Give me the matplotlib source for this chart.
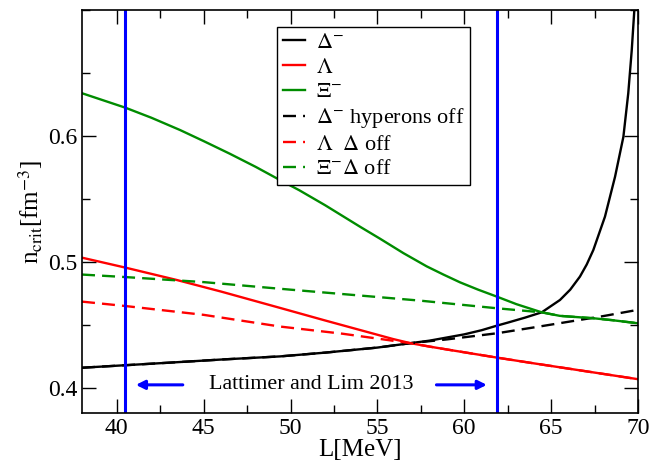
import matplotlib
matplotlib.use("Agg")
import matplotlib.pyplot as plt
from matplotlib.ticker import MultipleLocator

plt.rcParams["font.family"] = ["Liberation Serif", "DejaVu Serif"]
plt.rcParams["mathtext.fontset"] = "stix"

# --- data -----------------------------------------------------------------
L_delta = [38, 40.5, 43, 46, 49.4, 52, 55, 56.9, 58, 59, 60, 61, 61.9, 62.5,
           63.5, 64.46, 65.51, 66.1, 66.66, 67.05, 67.43, 68.1, 68.68, 69.16,
           69.44, 69.64, 69.79, 69.9]
n_delta = [0.416, 0.418, 0.420, 0.4225, 0.425, 0.428, 0.432, 0.4355, 0.4375,
           0.440, 0.4425, 0.4458, 0.4495, 0.4518, 0.4558, 0.460, 0.4698, 0.478,
           0.4884, 0.498, 0.5095, 0.536, 0.5677, 0.5994, 0.6339, 0.668, 0.700,
           0.720]

L_delta_off = [38, 40.5, 43, 46, 49.4, 52, 55, 56.9, 59, 61.9, 64, 66, 68, 70]
n_delta_off = [0.416, 0.418, 0.420, 0.4225, 0.425, 0.428, 0.432, 0.4355,
               0.4385, 0.4434, 0.448, 0.4525, 0.457, 0.462]

L_lambda = [38, 40.5, 43.45, 46, 49.4, 52, 55, 55.9, 56.9, 58, 59, 61.9, 64,
            67, 70]
n_lambda = [0.5034, 0.4955, 0.4857, 0.4765, 0.4635, 0.4535, 0.4422, 0.4388,
            0.4355, 0.4328, 0.4305, 0.424, 0.4195, 0.4132, 0.4069]

L_lambda_off = [38, 40.5, 45, 49.4, 53, 56.9, 58, 59, 61.9, 64, 67, 70]
n_lambda_off = [0.4685, 0.465, 0.458, 0.4487, 0.443, 0.4355, 0.4328, 0.4305,
                0.424, 0.4195, 0.4132, 0.4069]

L_xi = [38, 40.5, 42, 43.64, 45, 46.5, 48, 49.4, 50.5, 52, 53, 54, 55.15,
        56.5, 57.84, 58.8, 59.76, 60.8, 61.87, 63, 64.46, 65.5, 66.5, 67.43,
        68.5, 70]
n_xi = [0.634, 0.6225, 0.6145, 0.6048, 0.596, 0.586, 0.5755, 0.565, 0.557,
        0.545, 0.5365, 0.528, 0.5185, 0.507, 0.4965, 0.490, 0.4838, 0.478,
        0.4725, 0.4665, 0.4600, 0.4572, 0.4562, 0.4553, 0.4538, 0.4513]

L_xi_off = [38, 40.5, 45, 50, 55.15, 57.45, 61.9, 64.46, 65.5, 66.5, 67.43,
            68.5, 70]
n_xi_off = [0.490, 0.488, 0.484, 0.478, 0.472, 0.4693, 0.4632, 0.4600,
            0.4572, 0.4562, 0.4553, 0.4538, 0.4513]

L_bounds = [40.5, 61.9]  # Lattimer and Lim 2013

BLACK, RED, GREEN, BLUE = "black", "#ff0000", "#008c00", "#0000ff"
LW = 1.7
DASH = (5.5, 3)

fig = plt.figure(figsize=(6.51, 4.61), dpi=100)
ax = fig.add_axes([0.126, 0.104, 0.854, 0.874])

ax.plot(L_delta, n_delta, color=BLACK, lw=LW, label=r"$\Delta^{-}$")
ax.plot(L_lambda, n_lambda, color=RED, lw=LW, label=r"$\Lambda$")
ax.plot(L_xi, n_xi, color=GREEN, lw=LW, label=r"$\Xi^{-}$")
ax.plot(L_delta_off, n_delta_off, color=BLACK, lw=LW, dashes=DASH,
        label=r"$\Delta^{-}$ hyperons off")
ax.plot(L_lambda_off, n_lambda_off, color=RED, lw=LW, dashes=DASH,
        label=r"$\Lambda$  $\Delta$ off")
ax.plot(L_xi_off, n_xi_off, color=GREEN, lw=LW, dashes=DASH,
        label=r"$\Xi^{-}\Delta$ off")

for xb in L_bounds:
    ax.axvline(xb, color=BLUE, lw=2.2)

# Lattimer and Lim 2013 band marker
ax.annotate("", xy=(41.1, 0.4024), xytext=(43.8, 0.4024),
            arrowprops=dict(arrowstyle="-|>", color=BLUE, lw=2.2,
                            mutation_scale=13, shrinkA=0, shrinkB=0))
ax.annotate("", xy=(61.3, 0.4024), xytext=(58.4, 0.4024),
            arrowprops=dict(arrowstyle="-|>", color=BLUE, lw=2.2,
                            mutation_scale=13, shrinkA=0, shrinkB=0))
ax.text(51.2, 0.4024, "Lattimer and Lim 2013", fontsize=15.8,
        ha="center", va="center")

ax.set_xlim(38, 70)
ax.set_ylim(0.38, 0.70)
ax.xaxis.set_major_locator(MultipleLocator(5))
ax.xaxis.set_minor_locator(MultipleLocator(2.5))
ax.set_yticks([0.4, 0.5, 0.6])
ax.yaxis.set_minor_locator(MultipleLocator(0.05))
ax.tick_params(which="both", direction="in", top=True, right=True,
               labelsize=17, width=1)
ax.tick_params(which="major", length=10)
ax.tick_params(which="minor", length=6)
for sp in ax.spines.values():
    sp.set_linewidth(1.2)

ax.set_xlabel("L[MeV]", fontsize=18, labelpad=0)
ax.set_ylabel(r"n$_{\rm crit}$[fm$^{-3}$]", fontsize=18, labelpad=2)

leg = ax.legend(loc="upper left", bbox_to_anchor=(0.351, 0.958), fontsize=16,
                frameon=True, fancybox=False, framealpha=1, edgecolor="black",
                handlelength=1.0, handletextpad=0.5, labelspacing=0.18,
                borderpad=0.25, borderaxespad=0)
leg.get_frame().set_linewidth(1.0)

fig.savefig("out.png", dpi=100)
